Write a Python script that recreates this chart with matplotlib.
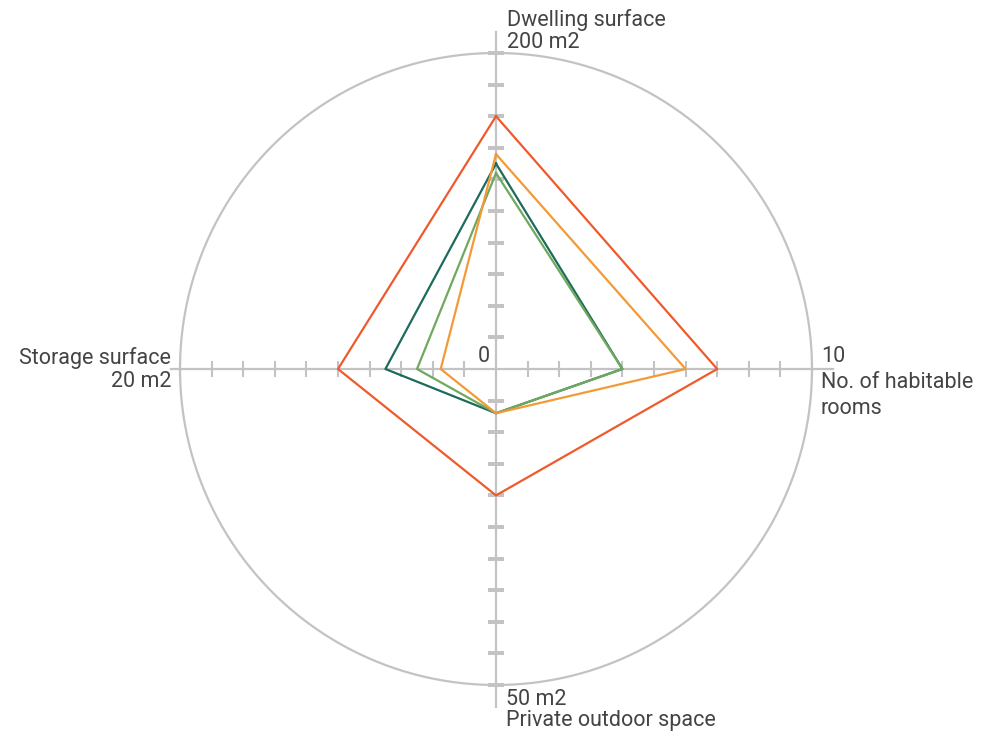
import numpy as np
import matplotlib
matplotlib.use("Agg")
import matplotlib.pyplot as plt

# ---------------------------------------------------------------
# Data
axis_names = ["Dwelling surface", "No. of habitable\nrooms",
              "Private outdoor space", "Storage surface"]
axis_max = [200, 10, 50, 20]
axis_max_labels = ["200 m2", "10", "50 m2", "20 m2"]

red_values = [160, 7, 20, 10]
orange_values = [136, 6, 7, 3.5]
teal_values = [130, 4, 7, 7]
green_values = [124, 4, 7, 5]

series = [teal_values, green_values, orange_values, red_values]
series_colors = ["#1c6b5c", "#6fa85f", "#f39a36", "#ef5a2c"]
# ---------------------------------------------------------------

GREY = "#c3c3c3"
TEXT = "#444444"
N_TICKS = 10
R_OUT = 1.1
axis_len = [1.065, 1.065, 1.07, 1.03]   # how far each axis pokes past the circle

plt.rcParams['font.family'] = ['Roboto', 'DejaVu Sans']

W, H = 997, 733
fig = plt.figure(figsize=(W / 100, H / 100), dpi=100)
cx, cy, rad = 496, 369, 316
size = rad * R_OUT
ax = fig.add_axes([(cx - size) / W, (H - cy - size) / H, 2 * size / W, 2 * size / H],
                  projection="polar")
ax.set_theta_zero_location("N")
ax.set_theta_direction(-1)
ax.set_ylim(0, R_OUT)
ax.axis("off")

thetas = np.arange(len(axis_names)) * np.pi / 2

# outer circle
t = np.linspace(0, 2 * np.pi, 400)
ax.plot(t, np.ones_like(t), color=GREY, lw=1.6, zorder=1)

# axes with cross ticks
tick_r = np.arange(1, N_TICKS + 1) / N_TICKS
for i, th in enumerate(thetas):
    ax.plot([th, th], [0, axis_len[i]], color=GREY, lw=1.6, zorder=1)
    mk = "_" if i % 2 == 0 else "|"
    ax.plot(np.full_like(tick_r, th), tick_r, linestyle="none", marker=mk,
            markersize=11, markeredgewidth=1.5, color=GREY, zorder=1)

# series polygons
for vals, col in zip(series, series_colors):
    r = [v / m for v, m in zip(vals, axis_max)]
    ax.plot(np.append(thetas, thetas[0]), r + [r[0]], color=col, lw=1.6, zorder=3)

# labels
fs = 15.5
kw = dict(fontsize=fs, color=TEXT, fontweight="normal",
          textcoords="offset pixels", annotation_clip=False)
ax.annotate(axis_names[0] + "\n" + axis_max_labels[0], xy=(thetas[0], 1.0),
            xytext=(11, 0), ha="left", va="bottom", linespacing=1.08, **kw)
ax.annotate(axis_max_labels[1] + "\n" + axis_names[1], xy=(thetas[1], 1.0),
            xytext=(9, 23), ha="left", va="top", linespacing=1.3, **kw)
ax.annotate(axis_max_labels[2] + "\n" + axis_names[2], xy=(thetas[2], 1.0),
            xytext=(10, -4), ha="left", va="top", linespacing=1.0, **kw)
ax.annotate(axis_names[3] + "\n" + axis_max_labels[3], xy=(thetas[3], 1.0),
            xytext=(-9, 22), ha="right", va="top", multialignment="right",
            linespacing=1.15, **kw)
ax.annotate("0", xy=(0, 0), xytext=(-12, 12), ha="center", va="center", **kw)

fig.savefig("out.png", dpi=100, facecolor="white")
